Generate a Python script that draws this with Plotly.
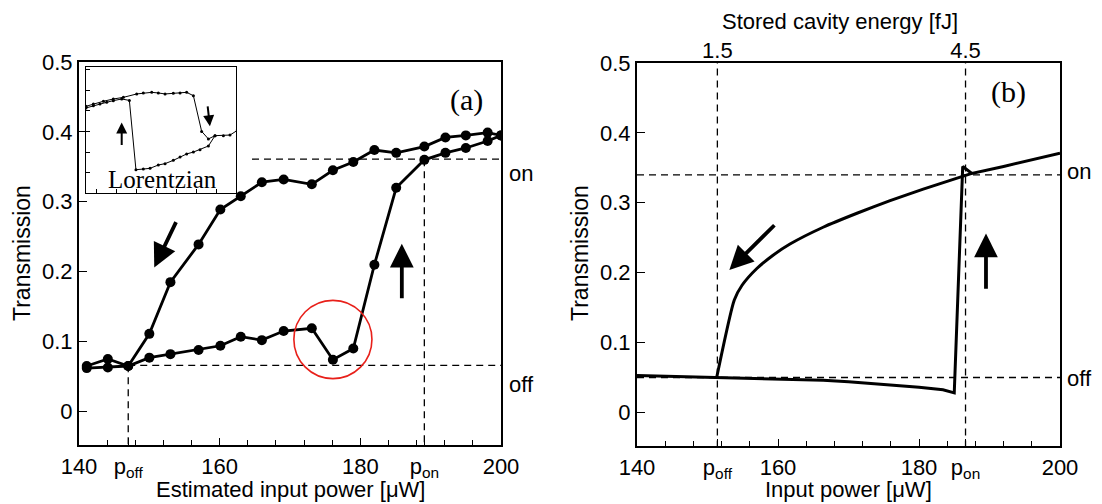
import plotly.graph_objects as go

# page shows the figure offset by the browser's 8px body margin
OFF = 8
W, H = 1102 - OFF, 504 - OFF

# ---------------- data: panel (a) ----------------
a_up_x = [141.1, 144.1, 147.0, 150.0, 153.0, 157.0, 160.1, 163.0, 166.0, 169.1, 173.1, 176.1, 179.0, 182.0, 185.1, 189.1, 192.1, 195.0, 198.1, 200.0]
a_up_y = [0.065, 0.075, 0.065, 0.111, 0.185, 0.239, 0.289, 0.308, 0.328, 0.332, 0.325, 0.345, 0.357, 0.374, 0.370, 0.379, 0.392, 0.395, 0.399, 0.395]
a_lo_x = [141.1, 144.1, 147.0, 150.0, 153.0, 157.0, 160.1, 163.0, 166.0, 169.1, 173.1, 176.1, 179.0, 182.0, 185.1, 189.1, 192.1, 195.0, 198.1, 200.0]
a_lo_y = [0.062, 0.063, 0.065, 0.077, 0.082, 0.088, 0.094, 0.107, 0.102, 0.115, 0.119, 0.074, 0.090, 0.210, 0.320, 0.360, 0.370, 0.377, 0.387, 0.395]
a_p_off, a_p_on = 147.0, 189.1
a_off, a_on = 0.066, 0.361
a_on_start = 164.6
circle_c = (176.1, 0.103)
circle_r = (5.55, 0.056)

# inset (Lorentzian), arbitrary units 0..1
in_a_x = [0, .049, .093, .138, .182, .238, .289, .333, .382, .427, .482, .527, .582, .627, .671, .716, .760, .816, .860, .916, .960, 1.009]
in_a_y = [.675, .693, .706, .720, .733, .746, .735, .185, .190, .196, .222, .233, .259, .286, .310, .325, .344, .373, .455, .455, .460, .497]
in_b_x = [0, .049, .116, .182, .249, .338, .382, .438, .482, .527, .582, .627, .671, .716, .771, .816, .860]
in_b_y = [.688, .706, .728, .746, .759, .786, .794, .799, .794, .786, .791, .794, .799, .772, .489, .429, .455]

# ---------------- data: panel (b) ----------------
b_lo_x = [140, 151.3, 160, 166.4, 170, 175.9, 180, 183.4, 185.0, 186.2, 187.5, 192, 196, 200]
b_lo_y = [0.053, 0.050, 0.0478, 0.0459, 0.0440, 0.0395, 0.0360, 0.0325, 0.028, 0.352, 0.342, 0.352, 0.362, 0.371]
b_up_x = [151.3, 153.8, 154.9, 157.0, 159.3, 161.7, 166.4, 171.2, 175.9, 180.6, 185.3, 187.5]
b_up_y = [0.050, 0.161, 0.182, 0.206, 0.225, 0.241, 0.265, 0.285, 0.303, 0.3195, 0.335, 0.342]
b_p_off, b_p_on = 151.4, 186.6
b_off, b_on = 0.050, 0.340
energy_ticks = ["1.5", "4.5"]

y_ticks = [0, 0.1, 0.2, 0.3, 0.4, 0.5]
y_labels = ["0", "0.1", "0.2", "0.3", "0.4", "0.5"]

SANS = "Liberation Sans"
SERIF = "Liberation Serif"
FS = 22


def px(x):
    return (x - OFF) / W


def py(y):
    return 1 - (y - OFF) / H


fig = go.Figure()

line = dict(color="black", width=2.8)
mk = dict(size=10, color="black")
fig.add_trace(go.Scatter(x=a_lo_x, y=a_lo_y, mode="lines+markers", line=line, marker=mk, xaxis="x", yaxis="y"))
fig.add_trace(go.Scatter(x=a_up_x, y=a_up_y, mode="lines+markers", line=line, marker=mk, xaxis="x", yaxis="y"))
fig.add_trace(go.Scatter(x=b_lo_x, y=b_lo_y, mode="lines", line=dict(color="black", width=3),
                         xaxis="x2", yaxis="y2"))
fig.add_trace(go.Scatter(x=b_up_x, y=b_up_y, mode="lines", line=dict(color="black", width=3, shape="spline", smoothing=0.6),
                         xaxis="x2", yaxis="y2"))
# invisible trace so the top energy axis is drawn
fig.add_trace(go.Scatter(x=[b_p_off, b_p_on], y=[b_off, b_on], mode="markers",
                         marker=dict(opacity=0, size=1), xaxis="x4", yaxis="y2", hoverinfo="skip"))
fig.add_trace(go.Scatter(x=in_a_x, y=in_a_y, mode="lines+markers", line=dict(color="black", width=1),
                         marker=dict(size=3, color="black"), xaxis="x3", yaxis="y3"))
fig.add_trace(go.Scatter(x=in_b_x, y=in_b_y, mode="lines+markers", line=dict(color="black", width=1),
                         marker=dict(size=3, color="black"), xaxis="x3", yaxis="y3"))

dash = "7px,5px"
dl = dict(dash=dash, width=1.3, color="black")
shapes = [
    # panel a
    dict(type="line", xref="x", yref="y", x0=a_p_off, x1=200, y0=a_off, y1=a_off, line=dl),
    dict(type="line", xref="x", yref="y", x0=a_on_start, x1=200, y0=a_on, y1=a_on, line=dl),
    dict(type="line", xref="x", yref="y", x0=a_p_off, x1=a_p_off, y0=a_off, y1=-0.05, line=dl),
    dict(type="line", xref="x", yref="y", x0=a_p_on, x1=a_p_on, y0=a_on, y1=-0.05, line=dl),
    dict(type="circle", xref="x", yref="y", x0=circle_c[0] - circle_r[0], x1=circle_c[0] + circle_r[0],
         y0=circle_c[1] - circle_r[1], y1=circle_c[1] + circle_r[1], line=dict(color="#e8201a", width=1.6)),
    # panel b
    dict(type="line", xref="x2", yref="y2", x0=140, x1=200, y0=b_off, y1=b_off, line=dl),
    dict(type="line", xref="x2", yref="y2", x0=140, x1=200, y0=b_on, y1=b_on, line=dl),
    dict(type="line", xref="x2", yref="y2", x0=b_p_off, x1=b_p_off, y0=-0.05, y1=0.5, line=dl),
    dict(type="line", xref="x2", yref="y2", x0=b_p_on, x1=b_p_on, y0=-0.05, y1=0.5, line=dl),
]

ann = []


def arrow(xr, yr, x0, y0, x1, y1, w=3.8, size=1.25):
    ann.append(dict(xref=xr, yref=yr, axref=xr, ayref=yr, x=x1, y=y1, ax=x0, ay=y0,
                    showarrow=True, arrowhead=2, arrowsize=size, arrowwidth=w, arrowcolor="black", text=""))


arrow("x", "y", 153.9, 0.273, 150.7, 0.206)
arrow("x", "y", 185.9, 0.160, 185.9, 0.240)
arrow("x2", "y2", 159.7, 0.270, 153.1, 0.204)
arrow("x2", "y2", 189.5, 0.175, 189.5, 0.256)
arrow("x3", "y3", 0.238, 0.37, 0.238, 0.56, w=2.0, size=1.1)
arrow("x3", "y3", 0.810, 0.70, 0.826, 0.53, w=2.0, size=1.1)


def text(t, x, y, size=FS, font=SANS, angle=0, xanchor="center"):
    ann.append(dict(xref="paper", yref="paper", x=px(x), y=py(y), text=t, showarrow=False,
                    font=dict(family=font, size=size, color="black"), textangle=angle,
                    xanchor=xanchor, yanchor="middle"))


text("(a)", 466, 100, size=30, font=SERIF)
text("(b)", 1008, 92, size=30, font=SERIF)
text("Lorentzian", 162, 179, size=25, font=SERIF)
text("on", 507, 173, xanchor="left")
text("off", 507, 384, xanchor="left")
text("on", 1065, 172, xanchor="left")
text("off", 1065, 378, xanchor="left")
text("Transmission", 22, 253, size=23, angle=-90)
text("Transmission", 580, 253, size=23, angle=-90)
text("Estimated input power [μW]", 290, 489)
text("Input power [μW]", 848, 489)
text("Stored cavity energy [fJ]", 840, 21)

xt_a = [140, a_p_off, 160, 180, a_p_on, 200]
xt_b = [140, b_p_off, 160, 180, b_p_on, 200]
xlab = ["140", "p<sub>off</sub>", "160", "180", "p<sub>on</sub>", "200"]

tickfont = dict(family=SANS, size=FS, color="black")


def xax(dom, vals, anchor):
    return dict(domain=dom, range=[140, 200], tickvals=vals, ticktext=xlab, ticks="inside", ticklen=7,
                tickwidth=1.3, tickcolor="black", showline=True, linewidth=2.2, linecolor="black", mirror=True,
                showgrid=False, zeroline=False, tickfont=tickfont, anchor=anchor,
                minor=dict(tick0=140, dtick=4, ticks="inside", ticklen=5, tickwidth=1.2, tickcolor="black", showgrid=False))


def yax(dom, anchor):
    return dict(domain=dom, range=[-0.048, 0.5], tickvals=y_ticks, ticktext=y_labels, ticks="inside", ticklen=8,
                tickwidth=1.3, tickcolor="black", showline=True, linewidth=2.2, linecolor="black", mirror=True,
                showgrid=False, zeroline=False, tickfont=tickfont, anchor=anchor)


fig.update_layout(
    width=W, height=H, autosize=False, margin=dict(l=0, r=0, t=0, b=0, pad=0, autoexpand=False),
    paper_bgcolor="white", plot_bgcolor="white", showlegend=False,
    xaxis=xax([px(79), px(501)], xt_a, "y"), yaxis=yax([py(445), py(62)], "x"),
    xaxis2=xax([px(637), px(1060)], xt_b, "y2"), yaxis2=yax([py(446), py(63)], "x2"),
    xaxis4=dict(overlaying="x2", anchor="y2", side="top", range=[140, 200], tickvals=[b_p_off, b_p_on],
                ticktext=energy_ticks, ticks="", showgrid=False, zeroline=False, showline=False,
                tickfont=tickfont),
    xaxis3=dict(domain=[px(86), px(236)], range=[0, 1], anchor="y3", showline=True, mirror=True,
                linecolor="black", linewidth=1, ticks="inside", ticklen=4, tickwidth=1, tickcolor="black",
                tick0=0.071, dtick=0.133, showticklabels=False, showgrid=False, zeroline=False),
    yaxis3=dict(domain=[py(193), py(67)], range=[0, 1], anchor="x3", showline=True, mirror=True,
                linecolor="black", linewidth=1, ticks="inside", ticklen=4, tickwidth=1, tickcolor="black",
                tick0=0.159, dtick=0.164, showticklabels=False, showgrid=False, zeroline=False),
    shapes=shapes, annotations=ann,
)

fig.write_html("out.html")
